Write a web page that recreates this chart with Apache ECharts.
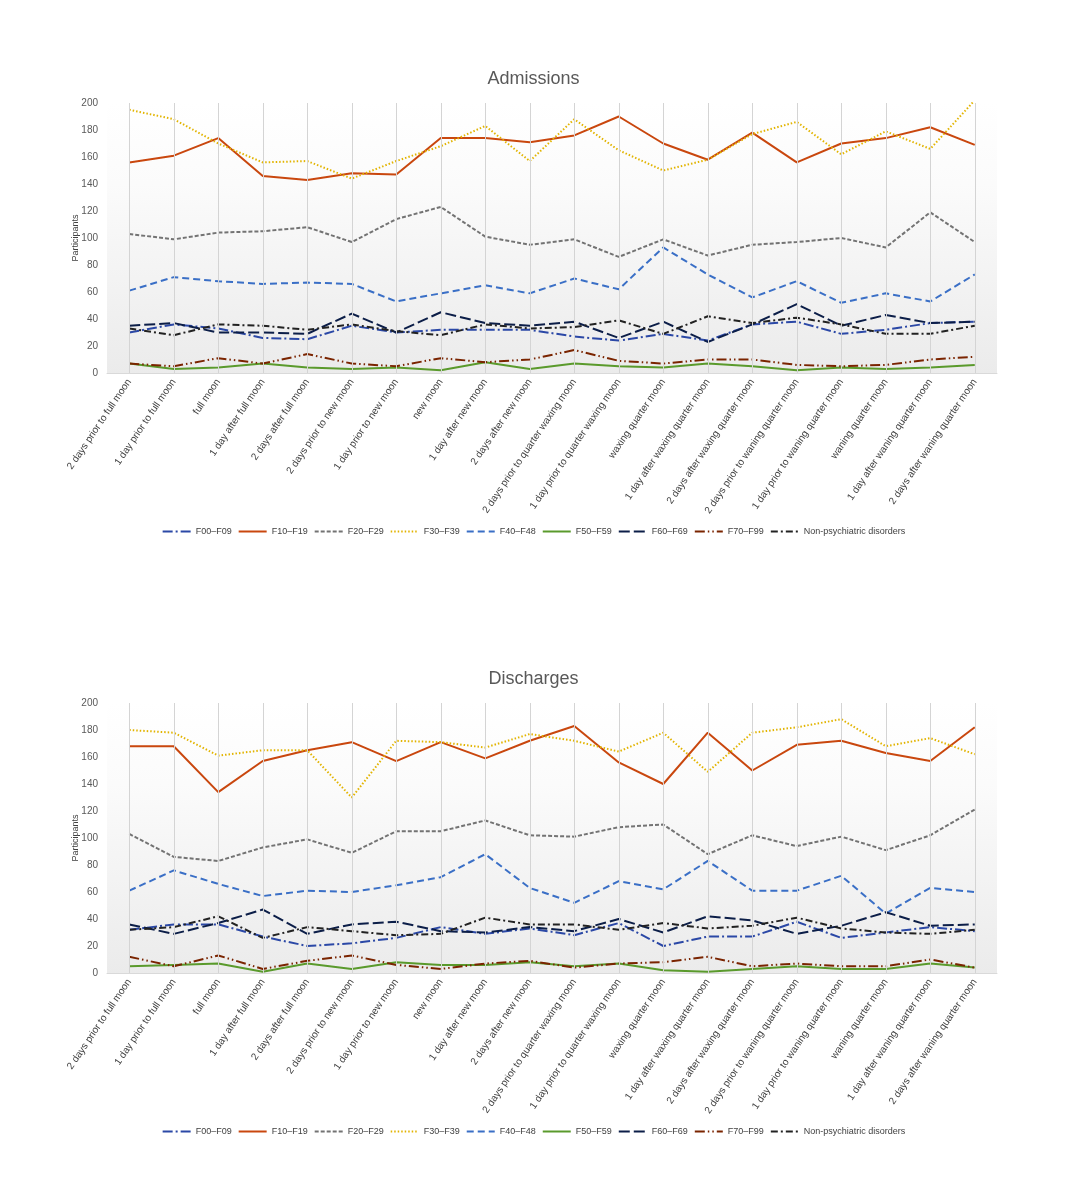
<!DOCTYPE html>
<html><head><meta charset="utf-8">
<script src="https://cdn.jsdelivr.net/npm/echarts@6/dist/echarts.min.js"></script>
<style>html,body{margin:0;padding:0;background:#fff}#c{width:1067px;height:1200px}</style>
</head><body><div id="c"></div>
<script>
const categories = ["2 days prior to full moon","1 day prior to full moon","full moon","1 day after full moon","2 days after full moon","2 days prior to new moon","1 day prior to new moon","new moon","1 day after new moon","2 days after new moon","2 days prior to quarter waxing moon","1 day prior to quarter waxing moon","waxing quarter moon","1 day after waxing quarter moon","2 days after waxing quarter moon","2 days prior to waning quarter moon","1 day prior to waning quarter moon","waning quarter moon","1 day after waning quarter moon","2 days after waning quarter moon"];
const seriesNames = ["F00–F09","F10–F19","F20–F29","F30–F39","F40–F48","F50–F59","F60–F69","F70–F99","Non-psychiatric disorders"];
const yTicks = [0,20,40,60,80,100,120,140,160,180,200];

const admF00 = [30,36,33,26,25,35,30,32,32,32,27,24,29,24,36,38,29,32,37,38];
const admF10 = [156,161,174,146,143,148,147,174,174,171,176,190,170,158,178,156,170,174,182,169];
const admF20 = [103,99,104,105,108,97,114,123,101,95,99,86,99,87,95,97,100,93,119,97];
const admF30 = [195,188,170,156,157,144,157,168,183,157,188,165,150,158,177,186,162,179,166,202];
const admF40 = [61,71,68,66,67,66,53,59,65,59,70,62,93,73,56,68,52,59,53,73];
const admF50 = [7,3,4,7,4,3,4,2,8,3,7,5,4,7,5,2,4,3,4,6];
const admF60 = [35,37,30,30,29,44,30,45,37,35,38,26,38,23,36,51,35,43,37,38];
const admF70 = [7,5,11,7,14,7,5,11,8,10,17,9,7,10,10,6,5,6,10,12];
const admNon = [33,28,36,35,32,36,31,28,36,33,34,39,29,42,37,41,36,29,29,35];

const disF00 = [32,36,36,27,20,22,26,34,29,33,28,37,20,27,27,38,26,30,34,31];
const disF10 = [168,168,134,157,165,171,157,171,159,172,183,156,140,178,150,169,172,163,157,182];
const disF20 = [103,86,83,93,99,89,105,105,113,102,101,108,110,88,102,94,101,91,102,121];
const disF30 = [180,178,161,165,165,130,172,171,167,177,172,164,178,149,178,182,188,168,174,162];
const disF40 = [61,76,66,57,61,60,65,71,88,63,52,68,62,83,61,61,72,44,63,60];
const disF50 = [5,6,7,1,7,3,8,6,6,8,5,7,2,1,3,5,3,3,7,4];
const disF60 = [36,29,37,47,29,36,38,31,30,34,31,40,30,42,39,29,35,45,35,36];
const disF70 = [12,5,13,3,9,13,6,3,7,9,4,7,8,12,5,7,5,5,10,4];
const disNon = [32,34,42,26,34,31,28,29,41,36,36,32,37,33,35,41,33,30,29,32];

const styles = [
  {color:'#2B48A6', type:[10,3,2,3]},
  {color:'#C9470E', type:'solid'},
  {color:'#737373', type:[4,2]},
  {color:'#E2B400', type:[1.5,2]},
  {color:'#3A6FC6', type:[7,4]},
  {color:'#5A9A2C', type:'solid'},
  {color:'#0C1E48', type:[11,4]},
  {color:'#7A2400', type:[10,3,1.5,3,1.5,3]},
  {color:'#222222', type:[7,3,2,3]}
];

const admData = [admF00,admF10,admF20,admF30,admF40,admF50,admF60,admF70,admNon];
const disData = [disF00,disF10,disF20,disF30,disF40,disF50,disF60,disF70,disNon];

const font = 'Liberation Sans Narrow, Liberation Sans, Arial, sans-serif';
const txt = '#595959';

function gridDef(top){
  return {left:107, right:70, top:top, height:270, show:true, borderWidth:0,
    backgroundColor:{type:'linear',x:0,y:0,x2:0,y2:1,colorStops:[
      {offset:0,color:'#ffffff'},{offset:0.3,color:'#fbfbfb'},{offset:1,color:'#ebebeb'}]}};
}
function xAxisDef(i){
  return {type:'category', gridIndex:i, data:categories, boundaryGap:true,
    axisLine:{lineStyle:{color:'#d9d9d9'}}, axisTick:{show:false}, splitLine:{show:false},
    axisLabel:{interval:0, rotate:56, fontSize:10, color:'#404040', fontFamily:font, margin:7}};
}
function yAxisDef(i){
  return {type:'value', gridIndex:i, min:yTicks[0], max:yTicks[yTicks.length-1], interval:20,
    name:'Participants', nameLocation:'middle', nameGap:27, nameMoveOverlap:false,
    nameTextStyle:{fontSize:9, color:'#404040', fontFamily:font},
    axisLine:{show:false}, axisTick:{show:false}, splitLine:{show:false},
    axisLabel:{fontSize:10, color:txt, fontFamily:font, margin:9}};
}
const series = [];
[admData, disData].forEach((set, gi) => {
  series.push({type:'line', name:'_grid'+gi, xAxisIndex:gi, yAxisIndex:gi, data:[], z:1, silent:true,
    markLine:{silent:true, symbol:'none', label:{show:false}, animation:false,
      lineStyle:{color:'#d4d4d4', width:1, type:'solid'},
      data:categories.map(c => ({xAxis:c}))}});
  set.forEach((d, si) => {
    series.push({type:'line', name:seriesNames[si], xAxisIndex:gi, yAxisIndex:gi, data:d,
      symbol:'none', showSymbol:false, z:3, animation:false,
      lineStyle:{color:styles[si].color, width:2, type:styles[si].type},
      itemStyle:{color:styles[si].color}});
  });
});
function legendDef(top){
  return {top:top, left:'center', data:seriesNames, itemWidth:28, itemHeight:8, itemGap:6,
    itemStyle:{opacity:0},
    textStyle:{fontSize:9, color:'#404040', fontFamily:font}};
}
const chart = echarts.init(document.getElementById('c'));
chart.setOption({
  animation:false,
  title:[
    {text:'Admissions', left:'center', top:65, textStyle:{fontSize:18, fontWeight:'normal', color:txt, fontFamily:font}},
    {text:'Discharges', left:'center', top:665, textStyle:{fontSize:18, fontWeight:'normal', color:txt, fontFamily:font}}
  ],
  legend:[legendDef(522), legendDef(1122)],
  grid:[gridDef(103), gridDef(703)],
  xAxis:[xAxisDef(0), xAxisDef(1)],
  yAxis:[yAxisDef(0), yAxisDef(1)],
  series:series
});
</script></body></html>
